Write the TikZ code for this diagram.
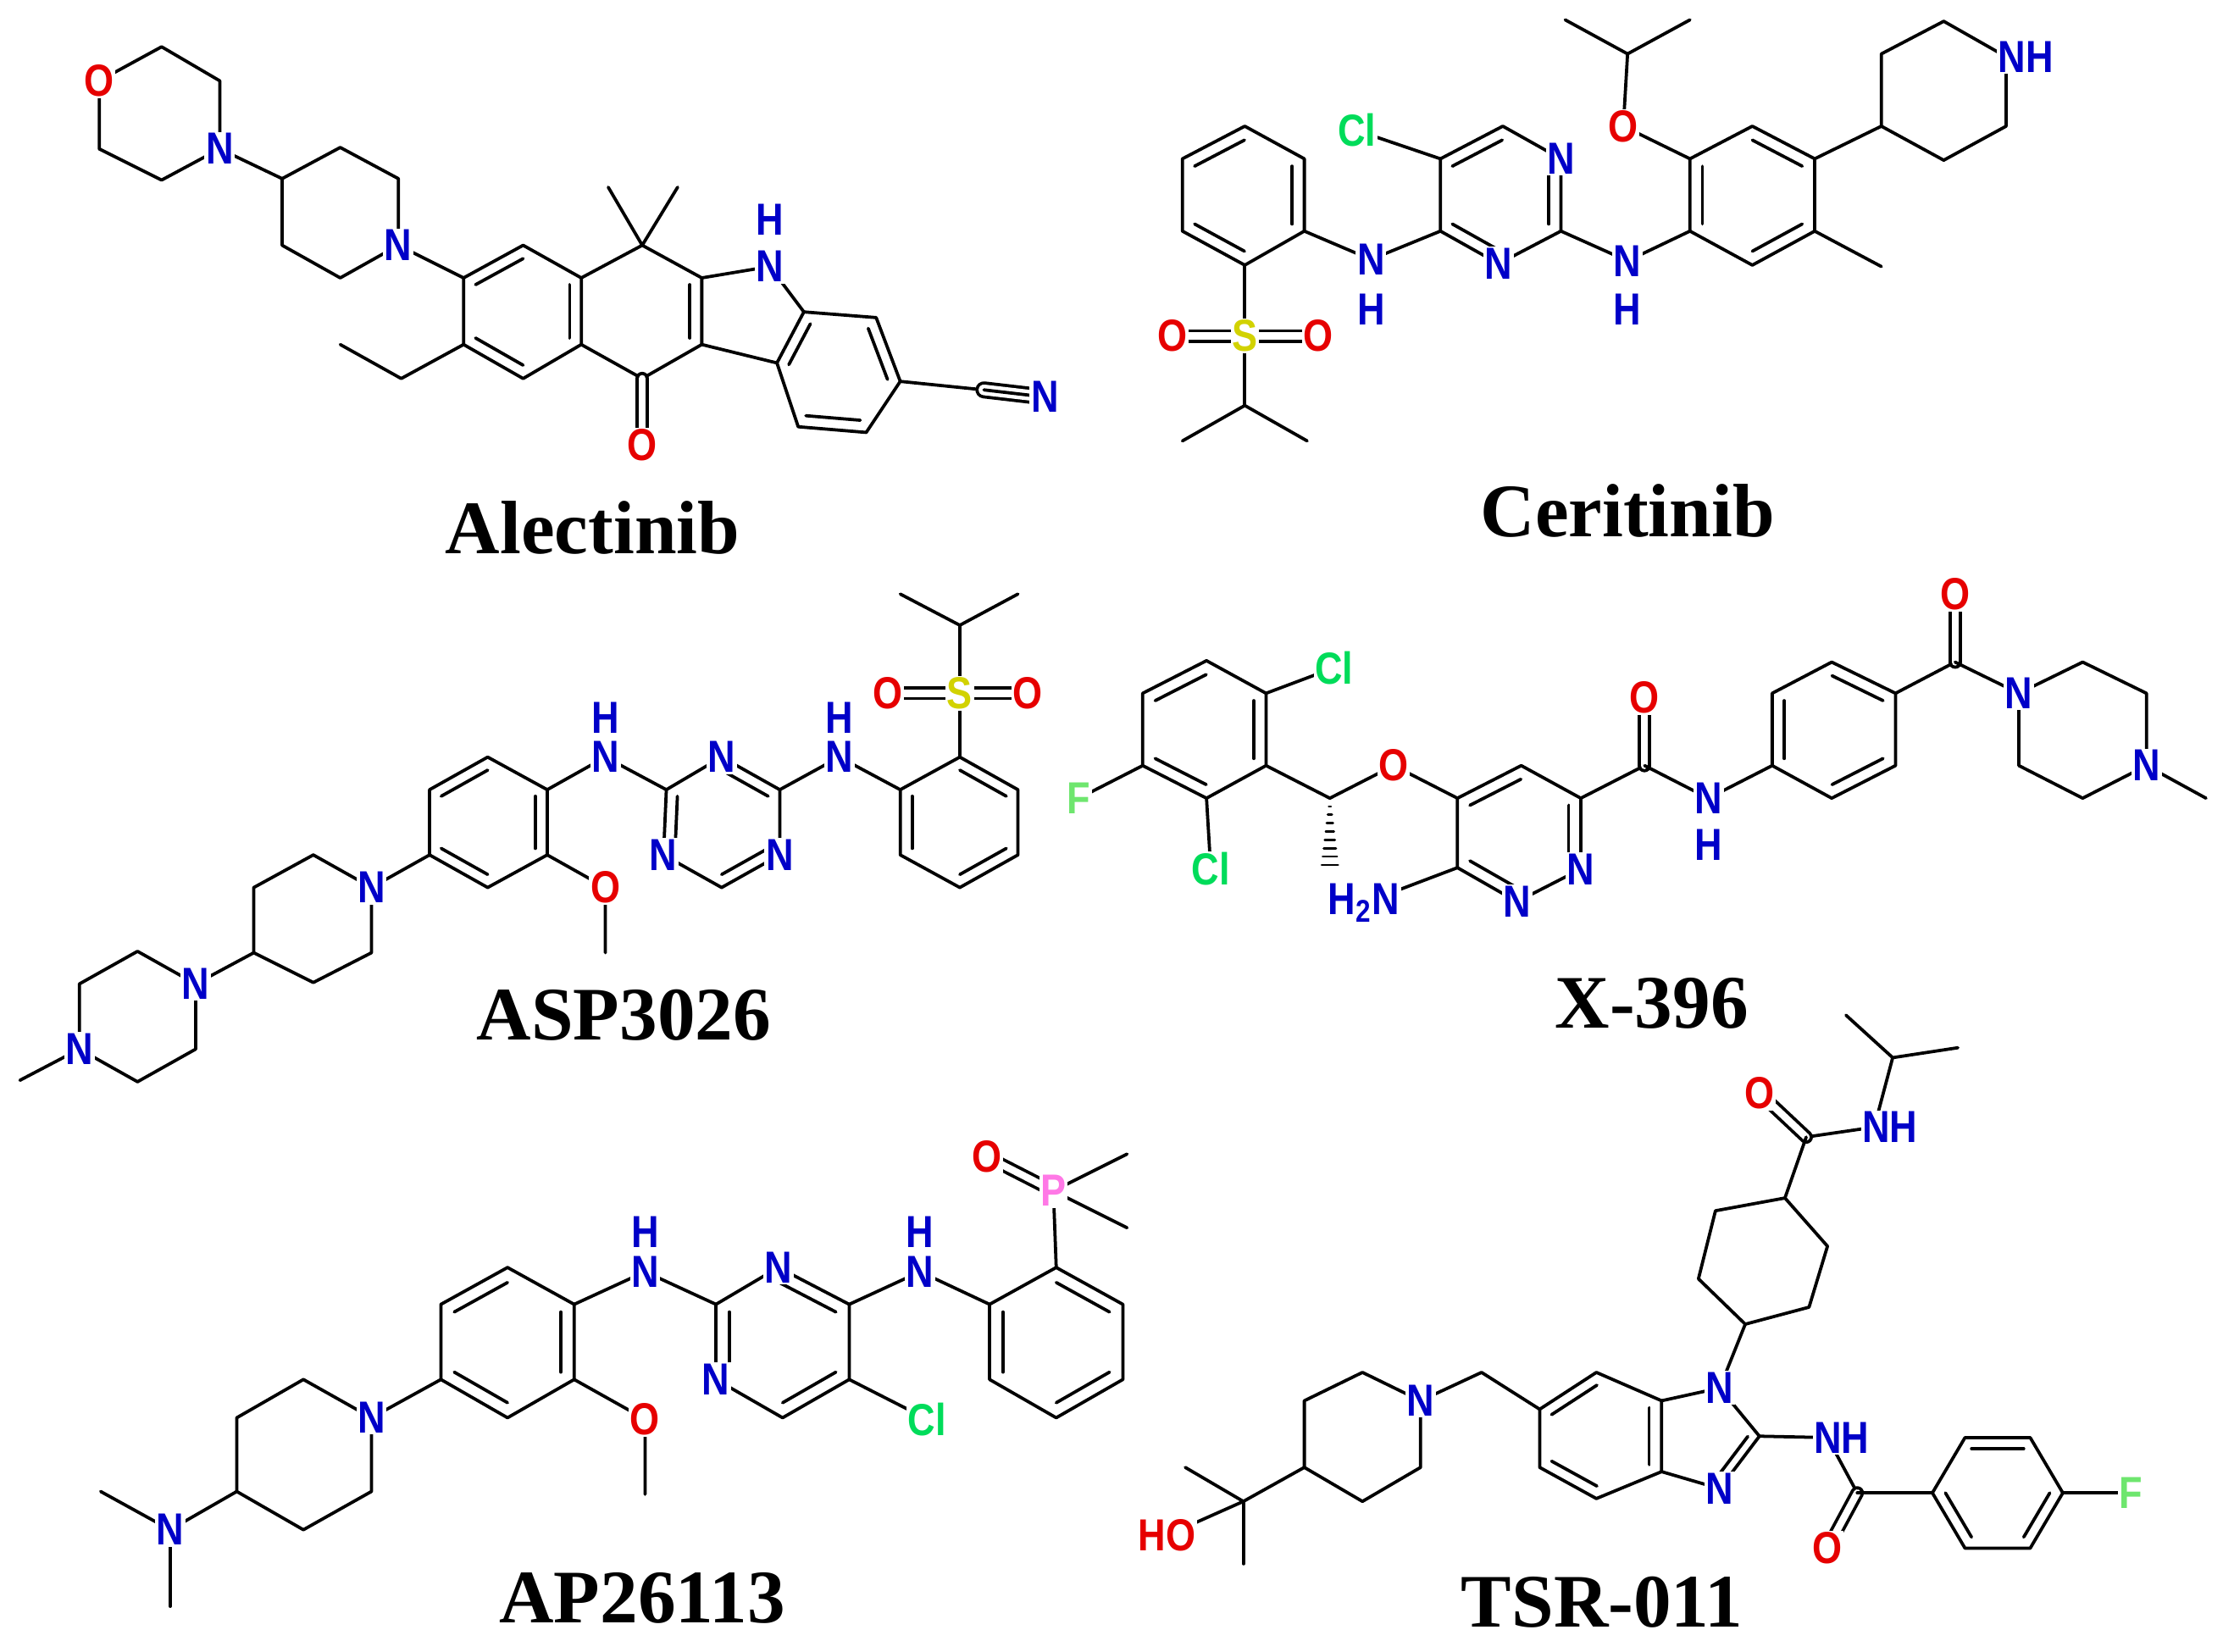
\documentclass[tikz,border=0pt]{standalone}
\usepackage{fontspec}
\setmainfont{Liberation Serif}
\newfontfamily\labfont[FakeStretch=0.85]{Liberation Sans}
\usetikzlibrary{calc}
\definecolor{cN}{RGB}{0,0,200}
\definecolor{cO}{RGB}{230,0,0}
\definecolor{cCl}{RGB}{0,220,90}
\definecolor{cF}{RGB}{110,230,110}
\definecolor{cS}{RGB}{210,210,0}
\definecolor{cP}{RGB}{255,120,230}
\tikzset{
  lab/.style={fill=white,inner sep=0.6pt,font=\labfont\bfseries\fontsize{19}{19}\selectfont},
  ttl/.style={font=\bfseries\fontsize{32}{32}\selectfont},
  dbo/.style={double,double distance=3pt},
}
\newcommand\bnd[2]{\draw (#1) -- (#2);}
\newcommand\dbi[3]{\draw ($(#1)!0.2!(#3)$) -- ($(#2)!0.2!(#3)$);}
\newcommand\atm[3]{\node[lab,text=#3] at (#1) {#2};}
\begin{document}
\begin{tikzpicture}[x=0.6pt,y=-0.6pt,line width=1.35pt,line cap=round,line join=round]
\useasboundingbox (0,0) rectangle (1568,1165);
% ================= Alectinib
\draw (70,57)--(114,33)--(155,57)--(155,105)--(114,127)--(70,105)--cycle;
\bnd{155,105}{199,126}
\draw (199,126)--(240,104)--(281,126)--(281,173)--(240,196)--(199,173)--cycle;
\bnd{281,173}{327,196}
\draw (327,196)--(369,173)--(410,196)--(410,243)--(369,267)--(327,243)--cycle;
\dbi{327,196}{369,173}{369,220}\dbi{410,196}{410,243}{369,220}\dbi{369,267}{327,243}{369,220}
\draw (327,243)--(283,267)--(240,243);
\draw (410,196)--(453,173)--(495,196)--(495,243)--(453,267)--(410,243);
\dbi{495,196}{495,243}{453,220}
\bnd{453,173}{429,132}\bnd{453,173}{478,132}
\draw[dbo] (453,267)--(453,314);
\draw (495,196)--(543,188)--(567,220)--(548,256)--(495,243);
\draw (567,220)--(618,224)--(635,269)--(611,305)--(563,301)--(548,256);
\dbi{548,256}{567,220}{590,262}\dbi{618,224}{635,269}{590,262}\dbi{611,305}{563,301}{590,262}
\bnd{635,269}{694,275}
\draw[double,double distance=4.5pt] (694,275)--(737,280);
\bnd{694,275}{737,280}
\atm{70,57}{O}{cO}\atm{155,105}{N}{cN}\atm{281,173}{N}{cN}
\atm{543,188}{N}{cN}\atm{543,155}{H}{cN}\atm{453,314}{O}{cO}\atm{737,280}{N}{cN}
\node[ttl] at (418,372) {Alectinib};
% ================= Ceritinib
\draw (878,89)--(920,112)--(920,163)--(878,187)--(834,163)--(834,112)--cycle;
\dbi{834,112}{878,89}{877,138}\dbi{920,112}{920,163}{877,138}\dbi{878,187}{834,163}{877,138}
\bnd{878,187}{878,237}
\draw[dbo] (878,237)--(827,237); \draw[dbo] (878,237)--(930,237);
\bnd{878,237}{878,286}\bnd{878,286}{834,311}\bnd{878,286}{922,311}
\draw (920,163)--(967,183)--(1016,163);
\draw (1016,163)--(1016,112)--(1060,89)--(1101,112)--(1101,163)--(1057,186)--cycle;
\dbi{1016,112}{1060,89}{1058,138}\dbi{1101,112}{1101,163}{1058,138}\dbi{1016,163}{1057,186}{1058,138}
\bnd{1016,112}{957,92}
\draw (1101,163)--(1148,184)--(1192,163);
\draw (1192,163)--(1192,112)--(1236,89)--(1280,112)--(1280,163)--(1236,187)--cycle;
\dbi{1192,163}{1192,112}{1236,138}\dbi{1236,89}{1280,112}{1236,138}\dbi{1280,163}{1236,187}{1236,138}
\draw (1192,112)--(1145,89)--(1148,38); \bnd{1148,38}{1104,14}\bnd{1148,38}{1192,14}
\bnd{1280,163}{1327,188}
\bnd{1280,112}{1327,89}
\draw (1327,89)--(1327,38)--(1371,15)--(1415,40)--(1415,89)--(1371,113)--cycle;
\atm{957,92}{Cl}{cCl}\atm{827,237}{O}{cO}\atm{878,237}{S}{cS}\atm{930,237}{O}{cO}
\atm{967,183}{N}{cN}\atm{967,218}{H}{cN}\atm{1101,112}{N}{cN}\atm{1057,186}{N}{cN}
\atm{1148,184}{N}{cN}\atm{1148,218}{H}{cN}\atm{1145,89}{O}{cO}\atm{1429,40}{NH}{cN}
\node[ttl] at (1148,360) {Ceritinib};
% ================= ASP3026
\draw (386,557)--(344,534)--(303,557)--(303,603)--(344,626)--(386,603)--cycle;
\dbi{344,534}{303,557}{344,580}\dbi{386,557}{386,603}{344,580}\dbi{303,603}{344,626}{344,580}
\draw (386,603)--(427,626)--(427,672);
\draw (386,557)--(427,534)--(470,557);
\draw (470,557)--(509,534)--(550,557)--(550,603)--(509,626)--(468,603)--cycle;
\dbi{470,557}{468,603}{509,580}\dbi{509,534}{550,557}{509,580}\dbi{550,603}{509,626}{509,580}
\draw (550,557)--(592,534)--(635,557);
\draw (635,557)--(677,534)--(718,557)--(718,603)--(677,626)--(635,603)--cycle;
\dbi{677,534}{718,557}{677,580}\dbi{718,603}{677,626}{677,580}\dbi{635,603}{635,557}{677,580}
\bnd{677,534}{677,489}
\draw[dbo] (677,489)--(626,489); \draw[dbo] (677,489)--(725,489);
\bnd{677,489}{677,441}\bnd{677,441}{635,419}\bnd{677,441}{718,419}
\bnd{303,603}{262,626}
\draw (262,626)--(221,603)--(179,626)--(179,672)--(221,693)--(262,672)--cycle;
\bnd{179,672}{138,694}
\draw (138,694)--(97,671)--(56,694)--(56,740)--(97,763)--(138,740)--cycle;
\bnd{56,740}{14,762}
\atm{427,534}{N}{cN}\atm{427,506}{H}{cN}\atm{509,534}{N}{cN}\atm{550,603}{N}{cN}
\atm{468,603}{N}{cN}\atm{592,534}{N}{cN}\atm{592,506}{H}{cN}\atm{427,626}{O}{cO}
\atm{677,489}{S}{cS}\atm{626,489}{O}{cO}\atm{725,489}{O}{cO}
\atm{262,626}{N}{cN}\atm{138,694}{N}{cN}\atm{56,740}{N}{cN}
\node[ttl] at (440,716) {ASP3026};
% ================= X-396
\draw (893,540)--(893,489)--(851,466)--(806,489)--(806,540)--(851,563)--cycle;
\dbi{893,540}{893,489}{850,515}\dbi{851,466}{806,489}{850,515}\dbi{806,540}{851,563}{850,515}
\bnd{893,489}{941,471}\bnd{806,540}{761,563}\bnd{851,563}{854,613}
\draw (893,540)--(938,563)--(983,540)--(1028,563);
\foreach \t in {0.12,0.24,...,1.0} {\draw[line width=1pt] ($(938,563)+(-6*\t,49*\t)$) -- ($(938,563)+(6*\t,49*\t)$);}
\draw (1028,563)--(1073,540)--(1115,563)--(1115,613)--(1070,636)--(1028,612)--cycle;
\dbi{1028,563}{1073,540}{1072,588}\dbi{1115,563}{1115,613}{1072,588}\dbi{1070,636}{1028,612}{1072,588}
\bnd{1028,612}{962,637}
\bnd{1115,563}{1160,540}\draw[dbo] (1160,540)--(1160,492);
\draw (1160,540)--(1205,563)--(1250,540);
\draw (1250,540)--(1250,489)--(1292,467)--(1337,489)--(1337,540)--(1292,563)--cycle;
\dbi{1250,540}{1250,489}{1293,515}\dbi{1292,467}{1337,489}{1293,515}\dbi{1337,540}{1292,563}{1293,515}
\bnd{1337,489}{1379,467}\draw[dbo] (1379,467)--(1379,419);
\bnd{1379,467}{1424,489}
\draw (1424,489)--(1469,467)--(1514,489)--(1514,540)--(1469,563)--(1424,540)--cycle;
\bnd{1514,540}{1556,563}
\atm{941,471}{Cl}{cCl}\atm{761,563}{F}{cF}\atm{854,613}{Cl}{cCl}\atm{983,540}{O}{cO}
\atm{962,637}{H\textsubscript{2}N}{cN}\atm{1115,613}{N}{cN}\atm{1070,636}{N}{cN}
\atm{1160,492}{O}{cO}\atm{1205,563}{N}{cN}\atm{1205,596}{H}{cN}\atm{1379,419}{O}{cO}
\atm{1424,489}{N}{cN}\atm{1514,540}{N}{cN}
\node[ttl] at (1165,708) {X-396};
% ================= AP26113
\draw (405,920)--(358,894)--(311,920)--(311,973)--(358,1000)--(405,973)--cycle;
\dbi{358,894}{311,920}{358,947}\dbi{405,920}{405,973}{358,947}\dbi{311,973}{358,1000}{358,947}
\draw (405,973)--(455,1001)--(455,1054);
\draw (405,920)--(455,897)--(505,920);
\draw (505,920)--(549,894)--(599,920)--(599,973)--(552,1000)--(505,973)--cycle;
\dbi{505,920}{505,973}{552,947}\dbi{549,894}{599,920}{552,947}\dbi{599,973}{552,1000}{552,947}
\bnd{599,973}{654,1001}
\draw (599,920)--(649,897)--(698,920);
\draw (698,920)--(745,894)--(792,920)--(792,973)--(745,1000)--(698,973)--cycle;
\dbi{745,894}{792,920}{745,947}\dbi{792,973}{745,1000}{745,947}\dbi{698,973}{698,920}{745,947}
\bnd{745,894}{743,840}\draw[dbo] (743,840)--(696,816);
\bnd{743,840}{795,814}\bnd{743,840}{795,866}
\bnd{311,973}{262,1000}
\draw (262,1000)--(214,973)--(167,1000)--(167,1052)--(214,1079)--(262,1052)--cycle;
\bnd{167,1052}{120,1079}\bnd{120,1079}{71,1052}\bnd{120,1079}{120,1133}
\atm{455,897}{N}{cN}\atm{455,869}{H}{cN}\atm{549,894}{N}{cN}\atm{505,973}{N}{cN}
\atm{654,1001}{Cl}{cCl}\atm{649,897}{N}{cN}\atm{649,869}{H}{cN}\atm{455,1001}{O}{cO}
\atm{743,840}{P}{cP}\atm{696,816}{O}{cO}\atm{262,1000}{N}{cN}\atm{120,1079}{N}{cN}
\node[ttl] at (453,1127) {AP26113};
% ================= TSR-011
\bnd{1335,746}{1302,716}\bnd{1335,746}{1381,739}\bnd{1335,746}{1322,795}
\bnd{1322,795}{1274,802}\draw[dbo] (1274,802)--(1241,771);
\bnd{1274,802}{1259,845}
\draw (1259,845)--(1289,879)--(1276,922)--(1231,934)--(1198,902)--(1210,854)--cycle;
\bnd{1231,934}{1213,979}
\draw (1213,979)--(1241,1013)--(1213,1050)--(1172,1038)--(1172,988)--cycle;
\dbi{1241,1013}{1213,1050}{1200,1014}
\draw (1172,988)--(1126,968)--(1086,994)--(1086,1035)--(1126,1057)--(1172,1038);
\dbi{1126,968}{1086,994}{1128,1013}\dbi{1086,1035}{1126,1057}{1128,1013}\dbi{1172,1038}{1172,988}{1128,1013}
\draw (1086,994)--(1045,968)--(1002,988);
\draw (1002,988)--(961,968)--(920,988)--(920,1035)--(961,1059)--(1002,1035)--cycle;
\bnd{920,1035}{877,1059}\bnd{877,1059}{836,1035}\bnd{877,1059}{877,1103}\bnd{877,1059}{823,1083}
\bnd{1241,1013}{1289,1014}\bnd{1289,1014}{1310,1053}\draw[dbo] (1310,1053)--(1289,1092);
\bnd{1310,1053}{1363,1053}
\draw (1363,1053)--(1386,1014)--(1432,1014)--(1455,1053)--(1432,1092)--(1386,1092)--cycle;
\dbi{1386,1014}{1432,1014}{1409,1053}\dbi{1455,1053}{1432,1092}{1409,1053}\dbi{1386,1092}{1363,1053}{1409,1053}
\bnd{1455,1053}{1503,1053}
\atm{1241,771}{O}{cO}\atm{1333,795}{NH}{cN}\atm{1213,979}{N}{cN}\atm{1213,1050}{N}{cN}
\atm{1002,988}{N}{cN}\atm{823,1083}{HO}{cO}\atm{1299,1014}{NH}{cN}\atm{1289,1092}{O}{cO}
\atm{1503,1053}{F}{cF}
\node[ttl] at (1130,1130) {TSR-011};
\end{tikzpicture}
\end{document}
